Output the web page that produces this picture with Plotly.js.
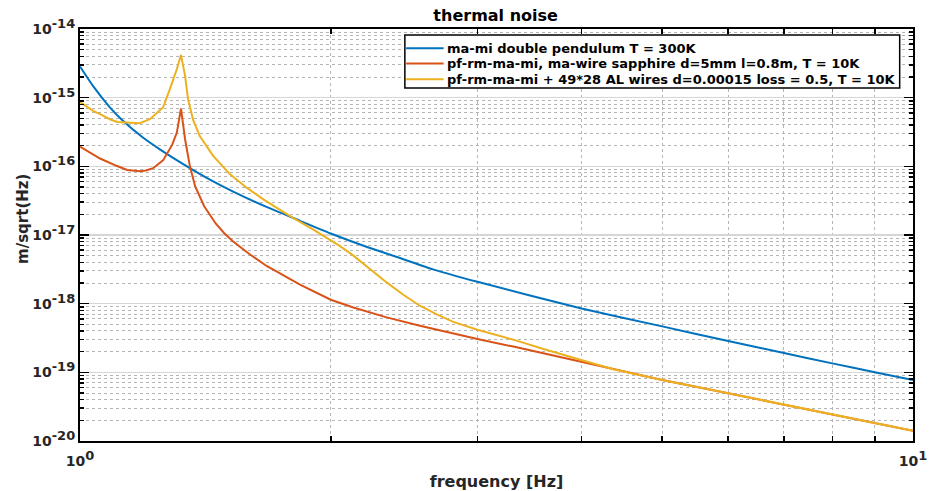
<!DOCTYPE html>
<html>
<head>
<meta charset="utf-8">
<script src="https://cdn.plot.ly/plotly-3.0.1.min.js"></script>
<style>html,body{margin:0;padding:0;background:#fff;}#chart{width:929px;height:491px;}</style>
</head>
<body>
<div id="chart"></div>
<script>
// ---- data (frequency in Hz, amplitude in m/sqrt(Hz)) ----
const blueFreq = [1, 1.037, 1.086, 1.126, 1.19, 1.247, 1.344, 1.432, 1.527, 1.677, 1.837, 2, 2.211, 2.422, 2.653, 3, 4, 5, 6, 7, 8, 9, 10];
const blueVals = [2.84e-15, 1.47e-15, 7.24e-16, 4.61e-16, 2.63e-16, 1.77e-16, 1.0e-16, 6.41e-17, 4.29e-17, 2.54e-17, 1.61e-17, 1.05e-17, 6.68e-18, 4.62e-18, 3.16e-18, 2.08e-18, 8.5e-19, 4.67e-19, 2.85e-19, 1.91e-19, 1.35e-19, 1.0e-19, 7.76e-20];

const redFreq = [1, 1.057, 1.108, 1.139, 1.18, 1.2, 1.224, 1.258, 1.29, 1.307, 1.322, 1.337, 1.355, 1.375, 1.409, 1.455, 1.489, 1.527, 1.6, 1.677, 1.837, 2, 2.129, 2.334, 2.559, 2.806, 3, 3.313, 3.634, 4, 4.367, 5, 6, 7, 8, 9, 10];
const redVals = [1.94e-16, 1.3e-16, 1.01e-16, 8.83e-17, 8.45e-17, 8.7e-17, 9.4e-17, 1.22e-16, 2.05e-16, 3.1e-16, 6.95e-16, 2.48e-16, 1.0e-16, 5.1e-17, 2.65e-17, 1.47e-17, 1.07e-17, 8.04e-18, 5.19e-18, 3.51e-18, 1.89e-18, 1.14e-18, 8.81e-19, 6.31e-19, 4.76e-19, 3.67e-19, 3.05e-19, 2.37e-19, 1.84e-19, 1.41e-19, 1.1e-19, 7.76e-20, 4.95e-20, 3.4e-20, 2.43e-20, 1.83e-20, 1.41e-20];

const yellowFreq = [1, 1.037, 1.057, 1.086, 1.108, 1.139, 1.18, 1.213, 1.258, 1.282, 1.307, 1.322, 1.337, 1.348, 1.368, 1.393, 1.445, 1.514, 1.585, 1.66, 1.739, 1.787, 1.906, 2, 2.052, 2.129, 2.229, 2.334, 2.444, 2.559, 2.681, 2.806, 3, 3.193, 3.313, 3.634, 4, 4.367, 5, 6, 7, 8, 9, 10];
const yellowVals = [8.6e-16, 6.41e-16, 5.74e-16, 4.85e-16, 4.43e-16, 4.35e-16, 4.25e-16, 4.85e-16, 7.19e-16, 1.33e-15, 2.61e-15, 4.2e-15, 2.08e-15, 9.5e-16, 4.61e-16, 2.74e-16, 1.42e-16, 7.64e-17, 4.89e-17, 3.3e-17, 2.3e-17, 1.88e-17, 1.2e-17, 8.38e-18, 6.87e-18, 5.01e-18, 3.2e-18, 2.04e-18, 1.35e-18, 9.33e-19, 7.0e-19, 5.43e-19, 4.17e-19, 3.39e-19, 2.99e-19, 2.11e-19, 1.5e-19, 1.11e-19, 7.76e-20, 4.95e-20, 3.4e-20, 2.43e-20, 1.83e-20, 1.41e-20];

const seriesNames = [
  'ma-mi double pendulum T = 300K',
  'pf-rm-ma-mi, ma-wire sapphire d=5mm l=0.8m, T = 10K',
  'pf-rm-ma-mi + 49*28 AL wires d=0.00015 loss = 0.5, T = 10K'
];

const xTickVals = [1, 10];
const xTickText = ['0', '1'];
const yTickVals = [1e-20, 1e-19, 1e-18, 1e-17, 1e-16, 1e-15, 1e-14];
const yTickText = ['-20', '-19', '-18', '-17', '-16', '-15', '-14'];

// minor tick positions (2..9 within each decade)
const xMinor = [];
for (let k = 2; k <= 9; k++) xMinor.push(k);
const yMinor = [];
for (let e = -20; e < -14; e++) for (let k = 2; k <= 9; k++) yMinor.push(k * Math.pow(10, e));

const FONT = 'DejaVu Sans, Arial, sans-serif';
const colors = ['#0072BD', '#D95319', '#EDB120'];
const pow10 = e => '10<sup><span style="font-size:13px">' + e + '</span></sup>';

const freqs = [blueFreq, redFreq, yellowFreq];
const vals = [blueVals, redVals, yellowVals];
const traces = freqs.map((f, i) => ({
  x: f, y: vals[i], name: seriesNames[i], type: 'scatter', mode: 'lines',
  line: {color: colors[i], width: 2, shape: i === 0 ? 'spline' : 'linear', smoothing: 0.5},
  showlegend: false
}));

// legend drawn as a boxed key in paper coordinates (MATLAB-style compact rows)
const legX0 = 0.390, legX1 = 0.984, legY0 = 0.857, legY1 = 0.9855;
const rowY = [0.9535, 0.9165, 0.878];
const shapes = [{type: 'rect', xref: 'paper', yref: 'paper', x0: legX0, x1: legX1, y0: legY0, y1: legY1,
  line: {color: '#000', width: 1.5}, fillcolor: '#fff', layer: 'above'}];
const annotations = [];
seriesNames.forEach((n, i) => {
  shapes.push({type: 'line', xref: 'paper', yref: 'paper', x0: 0.3915, x1: 0.4365, y0: rowY[i], y1: rowY[i],
    line: {color: colors[i], width: 2}, layer: 'above'});
  annotations.push({xref: 'paper', yref: 'paper', x: 0.4385, y: rowY[i], xanchor: 'left', yanchor: 'middle',
    text: n, showarrow: false, font: {family: FONT, size: 13, color: '#000', weight: 'bold'}});
});
annotations.push({xref: 'paper', yref: 'paper', x: -0.0684, y: 0.539, xanchor: 'center', yanchor: 'middle',
  text: 'm/sqrt(Hz)', textangle: -90, showarrow: false, font: {family: FONT, size: 15, color: '#262626', weight: 'bold'}});

const layout = {
  width: 929, height: 491,
  margin: {l: 80, r: 16, t: 29, b: 50, pad: 0},
  paper_bgcolor: '#fff', plot_bgcolor: '#fff',
  font: {family: FONT, color: '#262626', size: 13, weight: 'bold'},
  title: {text: 'thermal noise', font: {family: FONT, size: 16, color: '#000', weight: 'bold'}, x: 0.5335, xanchor: 'center', y: 0.969, yanchor: 'middle'},
  showlegend: false,
  shapes: shapes,
  annotations: annotations,
  xaxis: {
    type: 'log', range: [0, 1],
    tickmode: 'array', tickvals: xTickVals, ticktext: xTickText.map(pow10),
    tickfont: {family: FONT, size: 14, color: '#262626', weight: 'bold'},
    ticklabelstandoff: 6,
    ticks: 'inside', ticklen: 6, tickwidth: 1.5, tickcolor: '#000',
    showline: true, linecolor: '#000', linewidth: 2, mirror: 'ticks',
    showgrid: true, gridcolor: '#d6d6d6', gridwidth: 1.5,
    zeroline: false,
    minor: {tickmode: 'array', tickvals: xMinor, ticks: 'inside', ticklen: 5, tickwidth: 1.5, tickcolor: '#000', showgrid: true, gridcolor: '#b5b5b5', griddash: 'dot', gridwidth: 1},
    title: {text: 'frequency [Hz]', font: {family: FONT, size: 16, color: '#262626', weight: 'bold'}, standoff: 8}
  },
  yaxis: {
    type: 'log', range: [-20, -14],
    tickmode: 'array', tickvals: yTickVals, ticktext: yTickText.map(pow10),
    tickfont: {family: FONT, size: 14, color: '#262626', weight: 'bold'},
    ticks: 'inside', ticklen: 9, tickwidth: 1.5, tickcolor: '#000',
    showline: true, linecolor: '#000', linewidth: 2, mirror: 'ticks',
    showgrid: true, gridcolor: '#d6d6d6', gridwidth: 1.5,
    zeroline: false,
    minor: {tickmode: 'array', tickvals: yMinor, ticks: 'inside', ticklen: 4, tickwidth: 1.5, tickcolor: '#000', showgrid: true, gridcolor: '#b5b5b5', griddash: 'dot', gridwidth: 1}
  }
};

Plotly.newPlot('chart', traces, layout, {displayModeBar: false, staticPlot: true});
</script>
</body>
</html>
